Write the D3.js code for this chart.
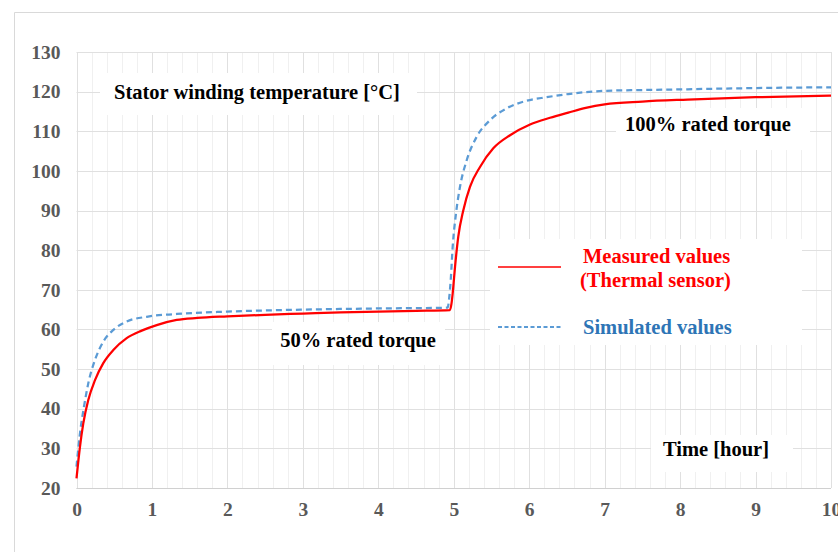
<!DOCTYPE html>
<html><head><meta charset="utf-8">
<script src="https://cdn.jsdelivr.net/npm/d3@7"></script>
<style>
html,body{margin:0;padding:0;background:#fff;}
svg{display:block;}
text{font-family:"Liberation Serif","Times New Roman",serif;font-weight:bold;}
</style></head>
<body>
<svg id="chart" width="838" height="552"></svg>
<script>
// ---- data ----
const measuredTime = [0, 0.046, 0.09, 0.156, 0.245, 0.355, 0.488, 0.665, 0.864, 1.063, 1.328, 1.6, 2.0, 2.5, 3.0, 3.5, 4.0, 4.5, 4.95, 4.97, 4.986, 5.017, 5.06, 5.127, 5.215, 5.348, 5.524, 5.746, 6.011, 6.276, 6.518, 6.75, 7.0, 7.5, 8.1, 9.0, 10];
const measuredValues = [22.4, 30.4, 36.3, 42.2, 47.2, 51.5, 54.8, 57.8, 59.7, 61.1, 62.4, 62.9, 63.3, 63.7, 64.0, 64.3, 64.5, 64.7, 64.9, 66.5, 69.1, 75.8, 83.4, 90.1, 96, 101, 105.7, 109, 111.7, 113.4, 114.7, 115.9, 116.8, 117.5, 118, 118.6, 119];
const simulatedTime = [0, 0.046, 0.099, 0.156, 0.245, 0.355, 0.488, 0.665, 0.93, 1.328, 2.0, 3.0, 4.0, 4.92, 4.94, 4.96, 4.986, 5.03, 5.083, 5.172, 5.304, 5.48, 5.702, 5.967, 6.232, 6.518, 7.0, 7.5, 8.1, 9.0, 10];
const simulatedValues = [25.4, 33.8, 40.5, 46.4, 52.3, 56.9, 59.9, 62, 63.2, 63.9, 64.5, 65, 65.3, 65.5, 68, 72.5, 80.9, 89.3, 96, 102.7, 108.6, 112.8, 115.8, 117.7, 118.6, 119.4, 120.2, 120.4, 120.6, 120.9, 121.1];
const xTicks = [0,1,2,3,4,5,6,7,8,9,10];
const yTicks = [20,30,40,50,60,70,80,90,100,110,120,130];
const seriesNames = ["Measured values", "(Thermal sensor)", "Simulated values"];
const labelTexts = ["Stator winding temperature [°C]", "100% rated torque", "50% rated torque", "Time [hour]"];

// ---- chart ----
const svg = d3.select("#chart");
const x = d3.scaleLinear().domain([0,10]).range([76.5,831]);
const y = d3.scaleLinear().domain([20,130]).range([488,52]);

// outer border
svg.append("path").attr("d","M14.5,560 L14.5,12.5 L850,12.5").attr("fill","none").attr("stroke","#d9d9d9").attr("stroke-width",1);

// minor vertical grid
const minor = d3.range(0,10.001,0.2).filter(v => Math.abs(v-Math.round(v))>1e-6);
svg.append("g").selectAll("line").data(minor).join("line")
  .attr("x1",d=>Math.round(x(d))+0.5).attr("x2",d=>Math.round(x(d))+0.5)
  .attr("y1",y(130)).attr("y2",y(20))
  .attr("stroke","#f0f0f0").attr("stroke-width",1);
// major vertical grid
svg.append("g").selectAll("line").data(xTicks).join("line")
  .attr("x1",d=>Math.round(x(d))+0.5).attr("x2",d=>Math.round(x(d))+0.5)
  .attr("y1",y(130)).attr("y2",y(20))
  .attr("stroke","#e0e0e0").attr("stroke-width",1);
// horizontal grid
svg.append("g").selectAll("line").data(yTicks).join("line")
  .attr("x1",x(0)).attr("x2",x(10))
  .attr("y1",d=>Math.round(y(d))+0.5).attr("y2",d=>Math.round(y(d))+0.5)
  .attr("stroke","#e0e0e0").attr("stroke-width",1);
// bottom axis line
svg.append("line").attr("x1",x(0)).attr("x2",x(10)).attr("y1",Math.round(y(20))+0.5).attr("y2",Math.round(y(20))+0.5)
  .attr("stroke","#d0d0d0").attr("stroke-width",1.2);

// axes via d3
const xAxis = d3.axisBottom(x).tickValues(xTicks).tickSize(0).tickPadding(14).tickFormat(d3.format("d"));
const gx = svg.append("g").attr("transform",`translate(0,${y(20)})`).call(xAxis);
gx.select(".domain").remove();
gx.selectAll("text").attr("fill","#595959").attr("font-size","19.5px").attr("font-family","'Liberation Serif',serif").attr("font-weight","bold");
const yAxis = d3.axisLeft(y).tickValues(yTicks).tickSize(0).tickPadding(16).tickFormat(d3.format("d"));
const gy = svg.append("g").attr("transform",`translate(${x(0)},0)`).call(yAxis);
gy.select(".domain").remove();
gy.selectAll("text").attr("fill","#595959").attr("font-size","19.5px").attr("font-family","'Liberation Serif',serif").attr("font-weight","bold");

// white label boxes
function box(x0,x1,y0,y1){
  svg.append("rect").attr("x",x0).attr("y",y0).attr("width",x1-x0).attr("height",y1-y0).attr("fill","#fff");
}
box(100,417,73,115);
box(616,810,108,150);
box(272,445,322,365);
box(490,802,239,345);
box(651,793,435,472);

// lines
const line = d3.line().x(d=>x(d[0])).y(d=>y(d[1])).curve(d3.curveMonotoneX);
const meas = measuredTime.map((t,i)=>[t,measuredValues[i]]);
const sim = simulatedTime.map((t,i)=>[t,simulatedValues[i]]);
svg.append("path").datum(sim).attr("d",line).attr("fill","none")
  .attr("stroke","#5b9bd5").attr("stroke-width",2.25).attr("stroke-dasharray","6,4");
svg.append("path").datum(meas).attr("d",line).attr("fill","none")
  .attr("stroke","#ff0000").attr("stroke-width",2.25);

// labels
function label(txt,cx,by,color,anchor){
  svg.append("text").attr("x",cx).attr("y",by).attr("text-anchor",anchor||"middle")
    .attr("fill",color||"#000").attr("font-size","20.5px").text(txt);
}
label(labelTexts[0],257,99);
label(labelTexts[1],708,131);
label(labelTexts[2],358,347);
label(labelTexts[3],716,456);

// legend
svg.append("line").attr("x1",498).attr("x2",561).attr("y1",267).attr("y2",267).attr("stroke","#ff0000").attr("stroke-width",1.5);
svg.append("line").attr("x1",498).attr("x2",561).attr("y1",327).attr("y2",327).attr("stroke","#5b9bd5").attr("stroke-width",1.8).attr("stroke-dasharray","4,2.5");
label(seriesNames[0],583,263,"#ff0000","start");
label(seriesNames[1],580,287,"#ff0000","start");
label(seriesNames[2],583,334,"#2e75b6","start");
</script>
</body></html>
